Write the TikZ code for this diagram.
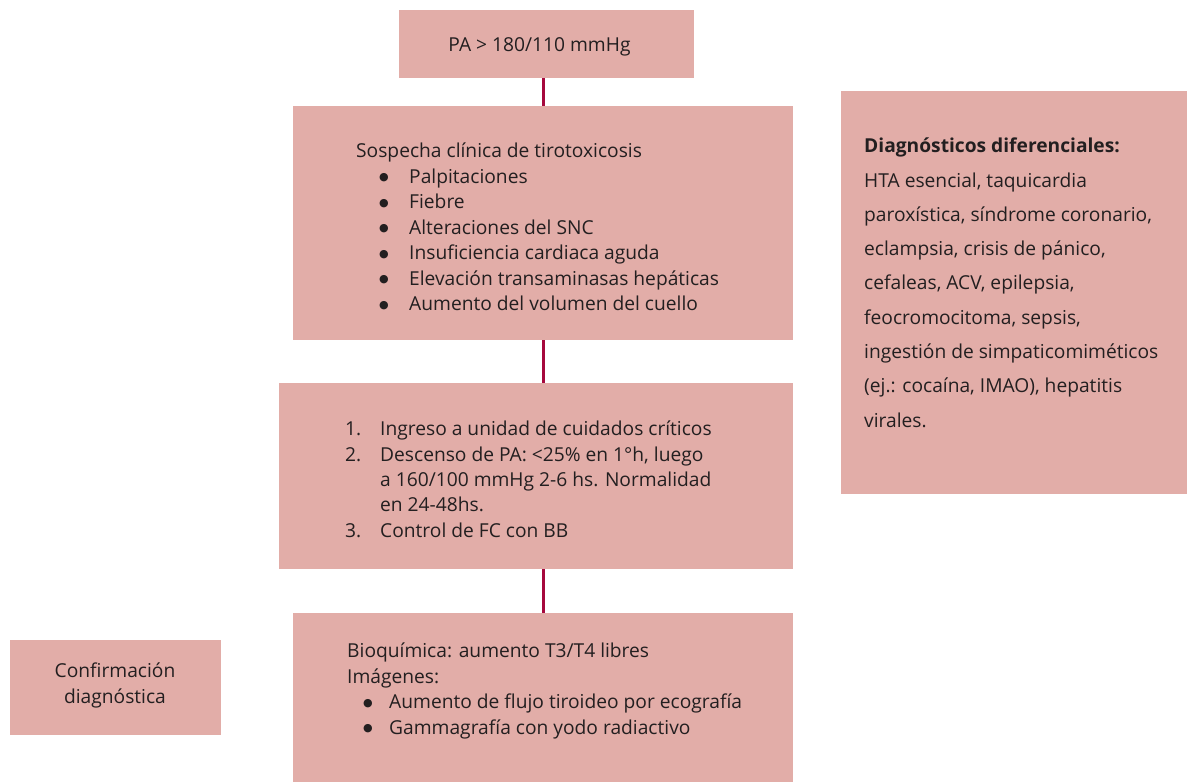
\documentclass[tikz,border=0pt]{standalone}
\usepackage{fontspec}
\setmainfont{Open Sans}
\newfontfamily\symfont{DejaVu Sans}
\definecolor{boxfill}{RGB}{226,173,168}
\definecolor{linkred}{RGB}{166,9,61}
\definecolor{txt}{RGB}{35,31,32}
\newcommand{\bigbul}{\raisebox{2.5pt}{\symfont\fontsize{11}{11}\selectfont ●}}
\begin{document}
\begin{tikzpicture}[x=1pt,y=-1pt,
  box/.style={rectangle,fill=boxfill,draw=none,inner sep=0pt},
  body/.style={inner sep=0pt,align=left,text=txt,font=\fontsize{19.2}{25.5}\selectfont},
  link/.style={draw=linkred,line width=3pt}]
\useasboundingbox (0,0) rectangle (1187,782);
% boxes
\node[box,minimum width=295pt,minimum height=68pt] (b1) at (546.5,44) {};
\node[box,minimum width=500pt,minimum height=234pt] (b2) at (543,223) {};
\node[box,minimum width=514pt,minimum height=186pt] (b3) at (536,476) {};
\node[box,minimum width=500pt,minimum height=169pt] (b4) at (543,697.5) {};
\node[box,minimum width=211pt,minimum height=95pt] (conf) at (115.5,687.5) {};
\node[box,minimum width=346pt,minimum height=403pt] (dd) at (1014,292.5) {};
% connectors
\draw[link] (b1.south -| b2.north) -- (b2.north);
\draw[link] (b2.south) -- (b2.south |- b3.north);
\draw[link] (b4.north |- b3.south) -- (b4.north);
% texts (base anchor = baseline of last line)
\node[body,anchor=base] (t1) at (539.5,51) {PA > 180/110 mmHg};
\node[body,anchor=base west] (t2) at (356,310.7) {Sospecha clínica de tirotoxicosis\\
\hspace*{23pt}\makebox[30pt][l]{\bigbul}Palpitaciones\\
\hspace*{23pt}\makebox[30pt][l]{\bigbul}Fiebre\\
\hspace*{23pt}\makebox[30pt][l]{\bigbul}Alteraciones del SNC\\
\hspace*{23pt}\makebox[30pt][l]{\bigbul}Insuficiencia cardiaca aguda\\
\hspace*{23pt}\makebox[30pt][l]{\bigbul}Elevación transaminasas hepáticas\\
\hspace*{23pt}\makebox[30pt][l]{\bigbul}Aumento del volumen del cuello};
\node[body,anchor=base west,font=\fontsize{19.2}{25.3}\selectfont] (t3) at (345,537) {\makebox[35pt][l]{1.}Ingreso a unidad de cuidados críticos\\
\makebox[35pt][l]{2.}Descenso de PA: <25\% en 1°h, luego\\
\hspace*{35pt}a 160/100 mmHg 2-6 hs. Normalidad\\
\hspace*{35pt}en 24-48hs.\\
\makebox[35pt][l]{3.}Control de FC con BB};
\node[body,anchor=base west] (t4) at (347,734) {Bioquímica: aumento T3/T4 libres\\
Imágenes:\\
\hspace*{16pt}\makebox[26pt][l]{\bigbul}Aumento de flujo tiroideo por ecografía\\
\hspace*{16pt}\makebox[26pt][l]{\bigbul}Gammagrafía con yodo radiactivo};
\node[body,align=center,anchor=base] (t5) at (115,703) {Confirmación\\diagnóstica};
\node[body,anchor=base west,font=\fontsize{19.2}{34.3}\selectfont] (t6) at (864,427.1) {\textbf{Diagnósticos diferenciales:}\\
HTA esencial, taquicardia\\
paroxística, síndrome coronario,\\
eclampsia, crisis de pánico,\\
cefaleas, ACV, epilepsia,\\
feocromocitoma, sepsis,\\
ingestión de simpaticomiméticos\\
(ej.: cocaína, IMAO), hepatitis\\
virales.};
\end{tikzpicture}
\end{document}
